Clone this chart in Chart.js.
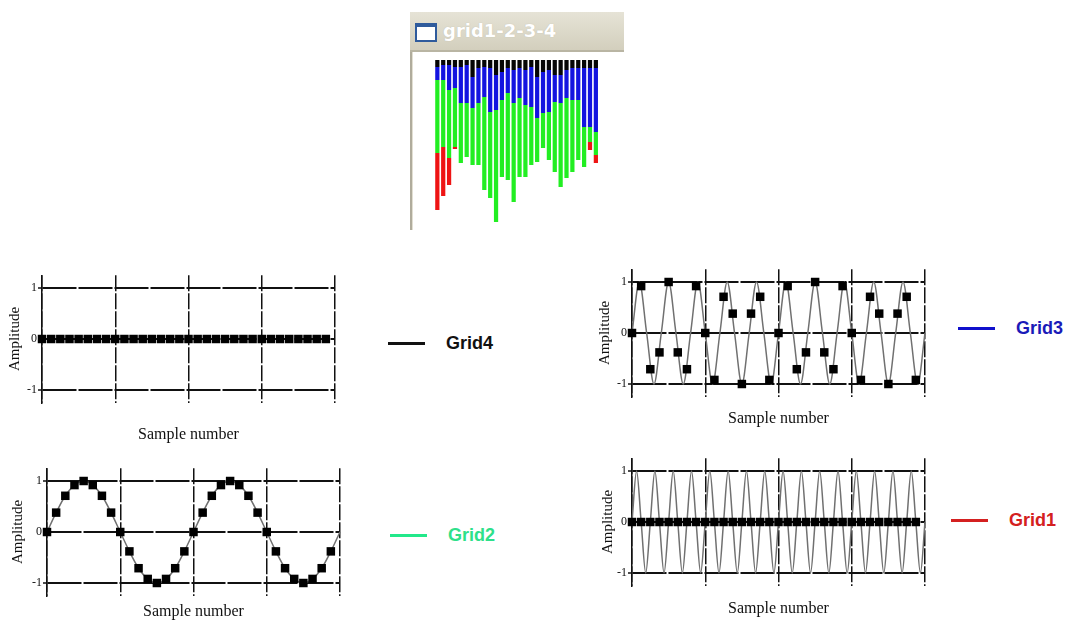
<!DOCTYPE html>
<html>
<head>
<meta charset="utf-8">
<script src="https://cdn.jsdelivr.net/npm/chart.js@4.4.0/dist/chart.umd.min.js"></script>
<style>
  body { margin: 0; width: 1069px; height: 621px; background: #fff; position: relative; overflow: hidden; }
  canvas { position: absolute; }
  .titlebar {
    position: absolute; left: 410px; top: 12px; width: 214px; height: 38px;
    background: linear-gradient(#e6e3d6, #d3cfbd);
    border-bottom: 2px solid #b9b5a3;
  }
  .titlebar .icon {
    position: absolute; left: 5px; top: 11px; width: 18px; height: 13px;
    border: 2px solid #2f5b9c; border-top-width: 4px; background: #fff;
  }
  .titlebar .ttl {
    position: absolute; left: 33px; top: 8px;
    font: bold 18px "DejaVu Sans", sans-serif; color: #fff;
    text-shadow: 0 0 1px #b8b4a4;
  }
  .frame-left {
    position: absolute; left: 410px; top: 52px; width: 2px; height: 178px;
    background: #b0ac9c; border-right: 1px solid #e2dfd2;
  }
  .leg { position: absolute; height: 24px; display: flex; align-items: center;
    font: bold 18px "Liberation Sans", Arial, sans-serif; }
  .leg i { display: inline-block; width: 37px; height: 3px; margin-right: 21px; }
</style>
</head>
<body>

<div class="titlebar"><span class="icon"></span><span class="ttl">grid1-2-3-4</span></div>
<div class="frame-left"></div>
<canvas id="bands" width="175" height="175" style="left:430px;top:55px"></canvas>

<canvas id="grid4" width="350" height="195" style="left:0px;top:255px"></canvas>
<canvas id="grid3" width="360" height="185" style="left:580px;top:250px"></canvas>
<canvas id="grid2" width="350" height="171" style="left:0px;top:450px"></canvas>
<canvas id="grid1" width="360" height="181" style="left:580px;top:440px"></canvas>

<div class="leg" style="left:388px;top:331px;color:#111"><i style="background:#111"></i>Grid4</div>
<div class="leg" style="left:958px;top:316px;color:#1a1ab8"><i style="background:#1010cc"></i>Grid3</div>
<div class="leg" style="left:390px;top:523px;color:#2ee08a"><i style="background:#22e88a"></i>Grid2</div>
<div class="leg" style="left:951px;top:508px;color:#d42020"><i style="background:#d42020"></i>Grid1</div>

<script>
  // window "grid1-2-3-4": depth of each colour band, 28 bars hanging from the top
  var barLabels = ['1', '2', '3', '4', '5', '6', '7', '8', '9', '10', '11', '12', '13', '14',
    '15', '16', '17', '18', '19', '20', '21', '22', '23', '24', '25', '26', '27', '28'];
  var blackBand = [7, 5, 5, 7, 7, 5, 17, 8, 7, 8, 15, 12, 8, 10, 8, 10, 7, 17, 12, 10, 15, 15, 10, 8, 8, 8, 8, 8];
  var blueBand = [13, 15, 25, 21, 36, 38, 31, 35, 30, 44, 35, 28, 25, 33, 30, 35, 40, 41, 41, 42, 27, 28, 28, 32, 32, 59, 59, 64];
  var greenBand = [73, 67, 68, 59, 60, 54, 57, 62, 93, 86, 112, 77, 87, 99, 79, 72, 58, 44, 35, 48, 70, 84, 80, 72, 60, 40, 15, 23];
  var redBand = [57, 49, 27, 2, 0, 0, 0, 0, 0, 0, 0, 0, 0, 0, 0, 0, 0, 0, 0, 0, 0, 0, 0, 0, 0, 0, 8, 8];

  // sample plots
  var yTicks = [-1, 0, 1];
  var sampleIdx = [0, 1, 2, 3, 4, 5, 6, 7, 8, 9, 10, 11, 12, 13, 14, 15,
    16, 17, 18, 19, 20, 21, 22, 23, 24, 25, 26, 27, 28, 29, 30, 31];

  var grid4Samples = [0, 0, 0, 0, 0, 0, 0, 0, 0, 0, 0, 0, 0, 0, 0, 0,
    0, 0, 0, 0, 0, 0, 0, 0, 0, 0, 0, 0, 0, 0, 0, 0];

  var grid3Samples = [0, 0.92, -0.71, -0.38, 1, -0.38, -0.71, 0.92, 0, -0.92, 0.71, 0.38, -1, 0.38, 0.71, -0.92,
    0, 0.92, -0.71, -0.38, 1, -0.38, -0.71, 0.92, 0, -0.92, 0.71, 0.38, -1, 0.38, 0.71, -0.92];
  var grid3WaveX = [0, 0.8, 1.6, 2.4, 3.2, 4, 4.8, 5.6, 6.4, 7.2, 8, 8.8, 9.6, 10.4, 11.2, 12, 12.8, 13.6, 14.4, 15.2,
    16, 16.8, 17.6, 18.4, 19.2, 20, 20.8, 21.6, 22.4, 23.2, 24, 24.8, 25.6, 26.4, 27.2, 28, 28.8, 29.6, 30.4, 31.2, 32];
  var grid3Wave = [0, 1, 0, -1, 0, 1, 0, -1, 0, 1, 0, -1, 0, 1, 0, -1, 0, 1, 0, -1,
    0, 1, 0, -1, 0, 1, 0, -1, 0, 1, 0, -1, 0, 1, 0, -1, 0, 1, 0, -1, 0];

  var grid2Samples = [0, 0.38, 0.71, 0.92, 1, 0.92, 0.71, 0.38, 0, -0.38, -0.71, -0.92, -1, -0.92, -0.71, -0.38,
    0, 0.38, 0.71, 0.92, 1, 0.92, 0.71, 0.38, 0, -0.38, -0.71, -0.92, -1, -0.92, -0.71, -0.38];
  var grid2WaveX = [0, 1, 2, 3, 4, 5, 6, 7, 8, 9, 10, 11, 12, 13, 14, 15, 16,
    17, 18, 19, 20, 21, 22, 23, 24, 25, 26, 27, 28, 29, 30, 31, 32];
  var grid2Wave = [0, 0.38, 0.71, 0.92, 1, 0.92, 0.71, 0.38, 0, -0.38, -0.71, -0.92, -1, -0.92, -0.71, -0.38,
    0, 0.38, 0.71, 0.92, 1, 0.92, 0.71, 0.38, 0, -0.38, -0.71, -0.92, -1, -0.92, -0.71, -0.38, 0];

  var grid1Samples = [0, 0, 0, 0, 0, 0, 0, 0, 0, 0, 0, 0, 0, 0, 0, 0,
    0, 0, 0, 0, 0, 0, 0, 0, 0, 0, 0, 0, 0, 0, 0, 0];
  var grid1WaveX = [0, 0.5, 1, 1.5, 2, 2.5, 3, 3.5, 4, 4.5, 5, 5.5, 6, 6.5, 7, 7.5, 8, 8.5, 9, 9.5, 10, 10.5, 11, 11.5,
    12, 12.5, 13, 13.5, 14, 14.5, 15, 15.5, 16, 16.5, 17, 17.5, 18, 18.5, 19, 19.5, 20, 20.5, 21, 21.5, 22, 22.5, 23, 23.5,
    24, 24.5, 25, 25.5, 26, 26.5, 27, 27.5, 28, 28.5, 29, 29.5, 30, 30.5, 31, 31.5, 32];
  var grid1Wave = [0, 1, 0, -1, 0, 1, 0, -1, 0, 1, 0, -1, 0, 1, 0, -1, 0, 1, 0, -1, 0, 1, 0, -1,
    0, 1, 0, -1, 0, 1, 0, -1, 0, 1, 0, -1, 0, 1, 0, -1, 0, 1, 0, -1, 0, 1, 0, -1,
    0, 1, 0, -1, 0, 1, 0, -1, 0, 1, 0, -1, 0, 1, 0, -1, 0];

  function pts(xs, ys) {
    return xs.map(function (x, i) { return { x: x, y: ys[i] }; });
  }

  // --- hanging stacked bars in the little window
  new Chart(document.getElementById('bands'), {
    type: 'bar',
    data: {
      labels: barLabels,
      datasets: [
        { data: blackBand, backgroundColor: '#050505' },
        { data: blueBand, backgroundColor: '#1414e0' },
        { data: greenBand, backgroundColor: '#22ee22' },
        { data: redBand, backgroundColor: '#ee1414' }
      ]
    },
    options: {
      responsive: false,
      animation: false,
      layout: { padding: { top: 5, left: 4.4, right: 6.2, bottom: 0 } },
      plugins: { legend: { display: false }, tooltip: { enabled: false } },
      datasets: { bar: { barPercentage: 0.72, categoryPercentage: 1 } },
      scales: {
        x: { stacked: true, display: false },
        y: { stacked: true, display: false, reverse: true, min: 0, max: 170 }
      }
    }
  });

  // --- the four sample plots
  function samplePlot(id, g, datasets) {
    new Chart(document.getElementById(id), {
      type: 'scatter',
      data: { datasets: datasets },
      options: {
        responsive: false,
        animation: false,
        layout: { padding: { top: g.padTop, right: g.padRight, left: 0, bottom: 0 } },
        plugins: { legend: { display: false }, tooltip: { enabled: false } },
        scales: {
          x: {
            type: 'linear', min: 0, max: 32,
            afterFit: function (s) { s.height = g.xh; },
            ticks: { display: false, stepSize: 8 },
            grid: { color: '#111', lineWidth: 1.5, drawTicks: false },
            border: { display: false, dash: [16, 2] },
            title: {
              display: true, text: 'Sample number', color: '#111',
              font: { family: 'Liberation Serif', size: 16 },
              padding: { top: 0, bottom: g.xtPad }
            }
          },
          y: {
            min: -1.25, max: 1.25,
            afterFit: function (s) { s.width = g.yw; },
            afterBuildTicks: function (s) { s.ticks = yTicks.map(function (v) { return { value: v }; }); },
            ticks: { color: '#111', padding: 1, font: { family: 'Liberation Serif', size: 12 } },
            grid: { color: '#111', lineWidth: 2, drawTicks: true, tickLength: 4, tickColor: '#111', tickWidth: 1.5 },
            border: { display: true, color: '#111', width: 1.5, dash: [34, 2] },
            title: {
              display: true, text: 'Amplitude', color: '#111',
              font: { family: 'Liberation Serif', size: 15 },
              padding: { top: g.ytPad, bottom: 0 }
            }
          }
        }
      }
    });
  }

  function waveSet(xs, ys) {
    return {
      data: pts(xs, ys), order: 1, showLine: true, pointRadius: 0, borderColor: '#707070', borderWidth: 1.5,
      cubicInterpolationMode: 'monotone', clip: false
    };
  }
  function sampleSet(ys) {
    return {
      data: pts(sampleIdx, ys), order: 0, showLine: false, pointStyle: 'rect', pointRadius: 6,
      backgroundColor: '#000', borderColor: '#000', borderWidth: 0, clip: false
    };
  }

  samplePlot('grid4', { padTop: 20.25, padRight: 15, xh: 47.25, yw: 42, xtPad: 5.4, ytPad: 6 },
    [sampleSet(grid4Samples)]);
  samplePlot('grid3', { padTop: 19.25, padRight: 15, xh: 38.25, yw: 52, xtPad: 6.4, ytPad: 16 },
    [waveSet(grid3WaveX, grid3Wave), sampleSet(grid3Samples)]);
  samplePlot('grid2', { padTop: 18.25, padRight: 10, xh: 25.25, yw: 47, xtPad: 0, ytPad: 9 },
    [waveSet(grid2WaveX, grid2Wave), sampleSet(grid2Samples)]);
  samplePlot('grid1', { padTop: 18.25, padRight: 15, xh: 35.25, yw: 52, xtPad: 2.4, ytPad: 19 },
    [waveSet(grid1WaveX, grid1Wave), sampleSet(grid1Samples)]);
</script>
</body>
</html>
